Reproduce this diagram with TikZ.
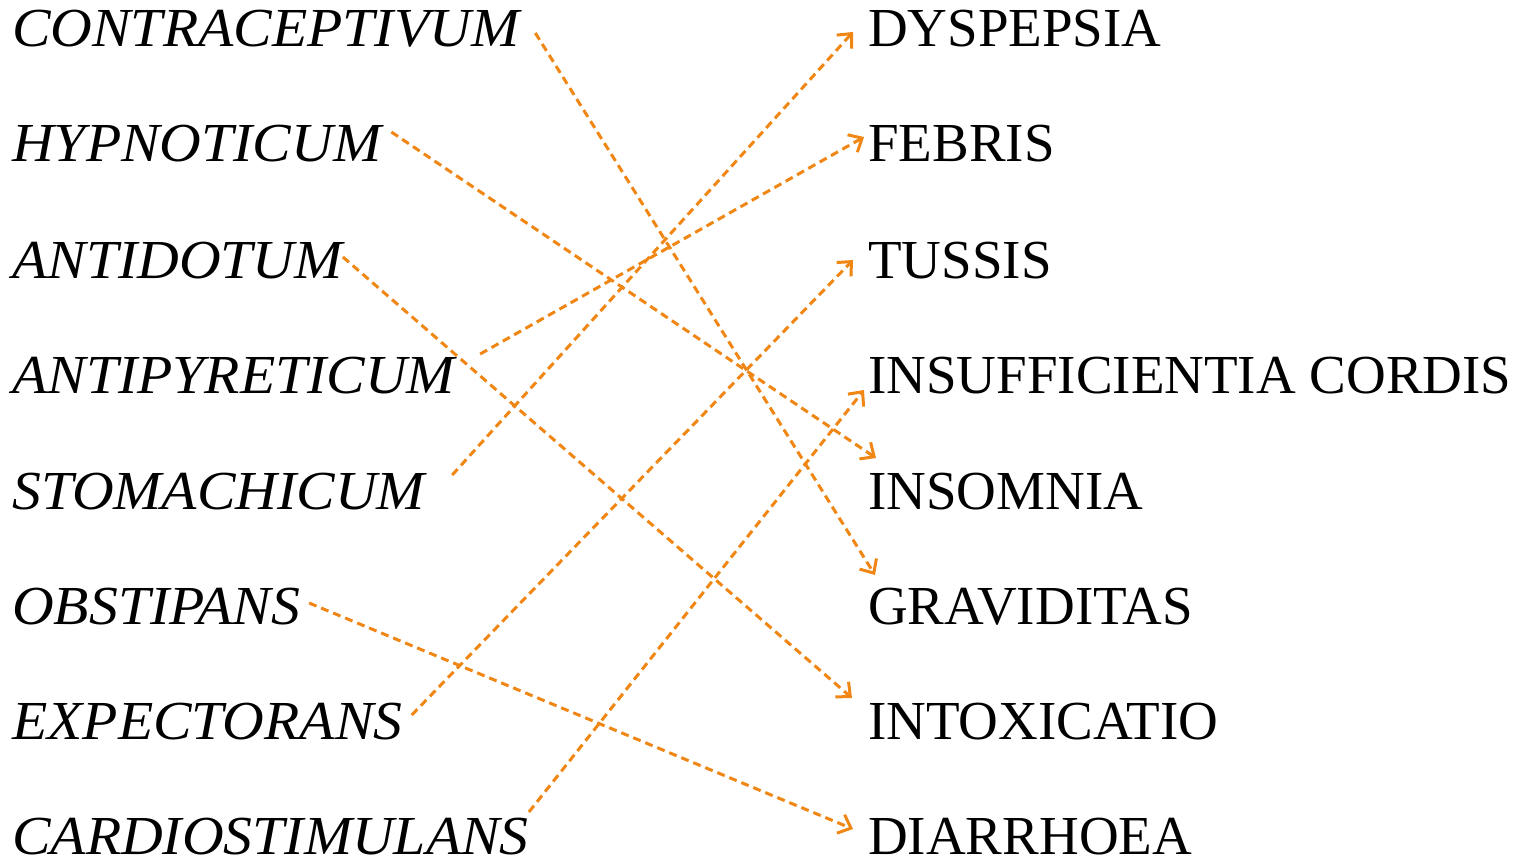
\documentclass[tikz,border=0pt]{standalone}
\usepackage{fontspec}
\setmainfont[ItalicFeatures={FakeStretch=1.05}]{Liberation Serif}
\usetikzlibrary{arrows.meta, calc}
\definecolor{linkorange}{RGB}{240,134,20}

\begin{document}
\begin{tikzpicture}[x=1pt, y=-1pt,
    drug/.style={anchor=base west, inner sep=0pt,
                 font=\fontsize{55}{66}\selectfont\itshape},
    ill/.style={anchor=base west, inner sep=0pt,
                font=\fontsize{55}{66}\selectfont},
    link/.style={-{Straight Barb[length=11pt, width=20pt]}, linkorange,
                 line width=3pt, dash pattern=on 8pt off 5pt}
  ]
    \useasboundingbox (0,0) rectangle (1526,861);
    % remedies
    \node[drug] at (12, 47) (contra) {CONTRACEPTIVUM};
    \node[drug] at (12,162) (hypno) {HYPNOTICUM};
    \node[drug] at (12,278) (antidot) {ANTIDOTUM};
    \node[drug] at (12,393) (antipyr) {ANTIPYRETICUM};
    \node[drug] at (12,509) (stomach) {STOMACHICUM};
    \node[drug] at (12,624) (obstip) {OBSTIPANS};
    \node[drug] at (12,739) (expect) {EXPECTORANS};
    \node[drug] at (12,854) (cardio) {CARDIOSTIMULANS};
    % conditions
    \node[ill] at (868, 47) (dysp) {DYSPEPSIA};
    \node[ill] at (868,162) (febris) {FEBRIS};
    \node[ill] at (868,278) (tussis) {TUSSIS};
    \node[ill] at (868,393) (insuff) {INSUFFICIENTIA CORDIS};
    \node[ill] at (868,509) (insomn) {INSOMNIA};
    \node[ill] at (868,624) (gravid) {GRAVIDITAS};
    \node[ill] at (868,739) (intox) {INTOXICATIO};
    \node[ill] at (868,854) (diarr) {DIARRHOEA};
    % matches
    \draw[link] ($(contra.base east)+(16,-14)$) -- ($(gravid.base west)+(7,-49)$);
    \draw[link] ($(hypno.base east)+(10,-30)$) -- ($(insomn.base west)+(8,-51)$);
    \draw[link] ($(antidot.base east)+(0,-21)$) -- ($(intox.base west)+(-16,-41)$);
    \draw[link] ($(antipyr.base east)+(25,-39)$) -- ($(febris.base west)+(-4,-25)$);
    \draw[link] ($(stomach.base east)+(27,-34)$) -- ($(dysp.base west)+(-15,-15)$);
    \draw[link] ($(obstip.base east)+(9,-21)$) -- ($(diarr.base west)+(-15,-25)$);
    \draw[link] ($(expect.base east)+(9,-24)$) -- ($(tussis.base west)+(-15,-18)$);
    \draw[link] ($(cardio.base east)+(0,-42)$) -- ($(insuff.base west)+(-4,-3)$);
  \end{tikzpicture}
\end{document}
